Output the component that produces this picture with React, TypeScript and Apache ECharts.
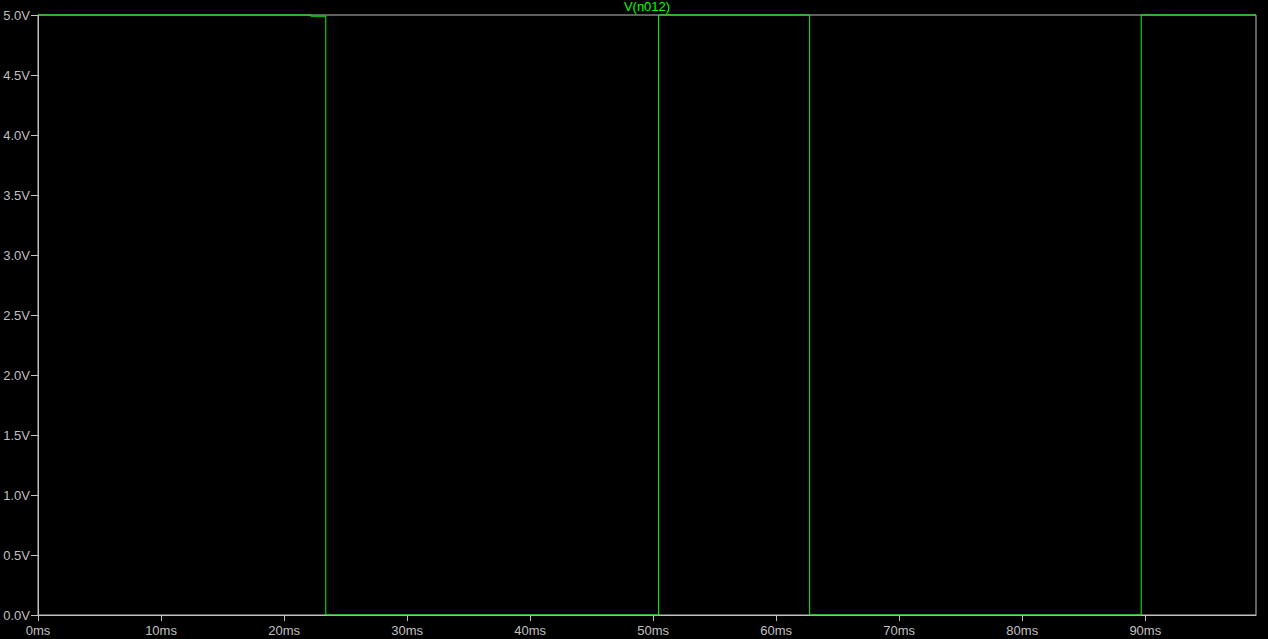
import React, { useEffect, useRef } from "react";
import * as echarts from "echarts";

const timeMs = [0, 22.17, 22.17, 23.39, 23.39, 50.44, 50.44, 62.72, 62.72, 89.67, 89.67, 99];
const volts = [5, 5, 4.99, 4.99, 0, 0, 5, 5, 0, 0, 5, 5];
const xTicks = [0, 10, 20, 30, 40, 50, 60, 70, 80, 90];
const traceName = "V(n012)";

const GRAY = "#c0c0c0";
const GREEN = "#00ff00";
const FONT = "'Liberation Sans', Arial, sans-serif";

export default function App() {
  const ref = useRef<HTMLDivElement>(null);
  useEffect(() => {
    document.body.style.margin = "0";
    document.body.style.background = "#000";
    const chart = echarts.init(ref.current!, null, { renderer: "svg" });
    chart.setOption({
      animation: false,
      backgroundColor: "#000000",
      grid: {
        left: 38,
        right: 12,
        top: 15,
        bottom: 24,
        show: true,
        borderColor: GRAY,
        borderWidth: 1,
        backgroundColor: "#000000",
      },
      graphic: [
        {
          type: "text",
          x: 647,
          y: 6,
          style: {
            text: traceName,
            fill: GREEN,
            font: `13px ${FONT}`,
            textAlign: "center",
            textVerticalAlign: "middle",
          },
        },
      ],
      xAxis: {
        type: "value",
        min: 0,
        max: 99,
        interval: 10,
        axisLine: { show: true, lineStyle: { color: GRAY, width: 1 } },
        axisTick: {
          show: true,
          length: 6,
          lineStyle: { color: GRAY },
          customValues: xTicks,
        },
        axisLabel: {
          color: GRAY,
          fontFamily: FONT,
          fontSize: 13,
          margin: 9,
          customValues: xTicks,
          formatter: (v: number) => `${v}ms`,
        },
        splitLine: { show: false },
      },
      yAxis: {
        type: "value",
        min: 0,
        max: 5,
        interval: 0.5,
        axisLine: { show: true, lineStyle: { color: GRAY, width: 1 } },
        axisTick: { show: true, length: 7, lineStyle: { color: GRAY } },
        axisLabel: {
          color: GRAY,
          fontFamily: FONT,
          fontSize: 13,
          margin: 8,
          formatter: (v: number) => `${v.toFixed(1)}V`,
        },
        splitLine: { show: false },
      },
      series: [
        {
          name: traceName,
          type: "line",
          data: timeMs.map((t, i) => [t, volts[i]]),
          showSymbol: false,
          symbol: "none",
          lineStyle: { color: GREEN, width: 1 },
          clip: false,
        },
      ],
    });
    return () => chart.dispose();
  }, []);
  return (
    <div
      ref={ref}
      style={{ position: "absolute", left: 0, top: 0, width: 1268, height: 639 }}
    />
  );
}
